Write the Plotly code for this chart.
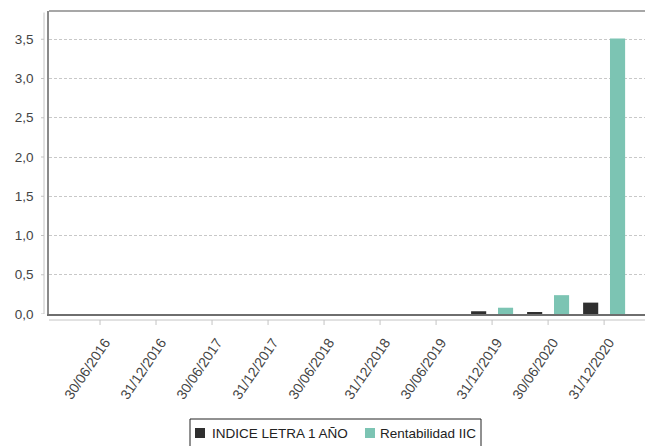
import plotly.graph_objects as go

# Report dates (category axis)
fechas = ["30/06/2016", "31/12/2016", "30/06/2017", "31/12/2017", "30/06/2018",
          "31/12/2018", "30/06/2019", "31/12/2019", "30/06/2020", "31/12/2020"]

# Series values (None = no bar drawn)
indice_letra = [None, None, None, None, None, None, None, 0.035, 0.02, 0.145]
rentabilidad = [None, None, None, None, None, None, None, 0.08, 0.24, 3.51]

y_ticks = [0.0, 0.5, 1.0, 1.5, 2.0, 2.5, 3.0, 3.5]

nombre_indice = "INDICE LETRA 1 AÑO"
nombre_rent = "Rentabilidad IIC"

COLOR_INDICE = "#2f2f2f"
COLOR_RENT = "#7cc4b3"
FONT = "Liberation Sans, Arial, sans-serif"

x = list(range(len(fechas)))

fig = go.Figure()
fig.add_trace(go.Bar(x=x, y=indice_letra, name=nombre_indice, marker_color=COLOR_INDICE,
                     marker_line_width=0, width=0.27, offset=-0.375, showlegend=False))
fig.add_trace(go.Bar(x=x, y=rentabilidad, name=nombre_rent, marker_color=COLOR_RENT,
                     marker_line_width=0, width=0.27, offset=0.105, showlegend=False))

shapes = []
# top border of the plot frame
shapes.append(dict(type="line", xref="paper", yref="paper", x0=0, x1=1, y0=1, y1=1,
                   line=dict(color="#8a8a8a", width=1.5)))
# detached value axis line
shapes.append(dict(type="line", xref="paper", yref="paper", xsizemode="pixel", xanchor=0,
                   x0=-5, x1=-5, y0=0, y1=0.995, line=dict(color="#c4c4c4", width=1)))
# detached category axis line
shapes.append(dict(type="line", xref="paper", yref="paper", ysizemode="pixel", yanchor=0,
                   x0=0, x1=1, y0=-6, y1=-6, line=dict(color="#c4c4c4", width=1)))
# value axis tick marks
for v in y_ticks:
    shapes.append(dict(type="line", xref="paper", yref="y", xsizemode="pixel", xanchor=0,
                       x0=-8, x1=-5, y0=v, y1=v, line=dict(color="#c4c4c4", width=1)))
# category axis tick marks
for i in x:
    shapes.append(dict(type="line", xref="x", yref="paper", ysizemode="pixel", yanchor=0,
                       x0=i, x1=i, y0=-6, y1=-11, line=dict(color="#c4c4c4", width=1)))

# legend box drawn by hand (pixel sizes anchored to paper)
shapes.append(dict(type="rect", xref="paper", yref="paper", xsizemode="pixel", ysizemode="pixel",
                   xanchor=0, yanchor=1, x0=141, x1=432, y0=-408, y1=-460,
                   line=dict(color="#222222", width=1), fillcolor="white"))
shapes.append(dict(type="rect", xref="paper", yref="paper", xsizemode="pixel", ysizemode="pixel",
                   xanchor=0, yanchor=1, x0=146, x1=156, y0=-417, y1=-427,
                   line=dict(width=0), fillcolor=COLOR_INDICE))
shapes.append(dict(type="rect", xref="paper", yref="paper", xsizemode="pixel", ysizemode="pixel",
                   xanchor=0, yanchor=1, x0=316, x1=326, y0=-417, y1=-427,
                   line=dict(width=0), fillcolor=COLOR_RENT))

fig.update_layout(
    width=645, height=446,
    margin=dict(l=49, r=0, t=11, b=132),
    paper_bgcolor="white", plot_bgcolor="white",
    separators=",.",
    barmode="overlay",
    font=dict(family=FONT, size=13, color="#444444"),
    shapes=shapes,
    annotations=[
        dict(text=nombre_indice, xref="paper", yref="paper", x=(210 - 49) / 596, y=(314 - 433) / 303,
             xanchor="left", yanchor="middle", showarrow=False,
             font=dict(family=FONT, size=13.5, color="#222222")),
        dict(text=nombre_rent, xref="paper", yref="paper", x=(378 - 49) / 596, y=(314 - 433) / 303,
             xanchor="left", yanchor="middle", showarrow=False,
             font=dict(family=FONT, size=13.5, color="#222222")),
    ],
    xaxis=dict(
        range=[-0.911, 9.73], tickvals=x, ticktext=fechas, tickangle=-56,
        showgrid=False, zeroline=False, showline=True, linecolor="#6e6e6e", linewidth=1.5,
        ticks="", ticklabelstandoff=13, ticklabelshift=5,
        tickfont=dict(size=14, color="#444444"),
    ),
    yaxis=dict(
        range=[0, 3.86], tickvals=y_ticks, tickformat=".1f",
        showgrid=True, gridcolor="#c8c8c8", griddash="3px,2px", gridwidth=1,
        zeroline=False, showline=True, linecolor="#8a8a8a", linewidth=1.5,
        ticks="", ticklabelstandoff=11, tickfont=dict(size=13.5, color="#444444"),
    ),
)

fig.write_html("out.html")
